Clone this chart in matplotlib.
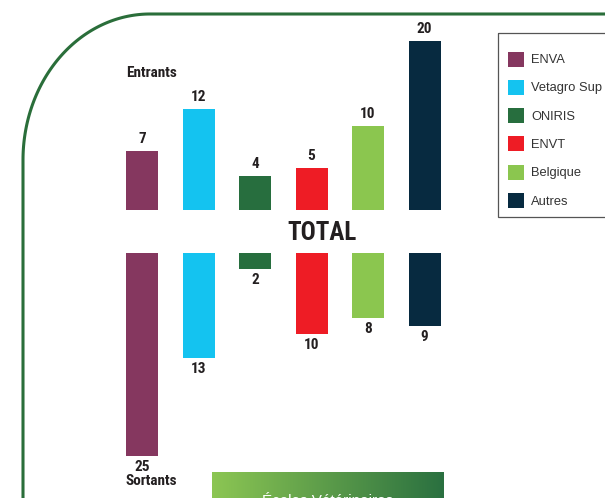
import numpy as np
import matplotlib
matplotlib.use('Agg')
import matplotlib.pyplot as plt
from matplotlib.patches import Rectangle
from matplotlib.colors import LinearSegmentedColormap

# data
ecoles = ['ENVA', 'Vetagro Sup', 'ONIRIS', 'ENVT', 'Belgique', 'Autres']
couleurs = ['#85375f', '#14c3f0', '#276e3e', '#ee1c25', '#8bc64f', '#072a40']
entrants = [7, 12, 4, 5, 10, 20]
sortants = [25, 13, 2, 10, 8, 9]

W, H = 605, 498
narrow = ['Roboto Condensed', 'Liberation Sans Narrow', 'Liberation Sans', 'DejaVu Sans']
plain = ['Liberation Sans', 'DejaVu Sans']
txt_col = '#231f20'

fig = plt.figure(figsize=(W / 100, H / 100), dpi=100)
ax = fig.add_axes([0, 0, 1, 1])
ax.set_xlim(0, W)
ax.set_ylim(H, 0)
ax.axis('off')

# page border (rounded top-left corner)
green = '#2a6e3a'
cx, cy, rx, ry = 150, 160, 127, 146
t = np.linspace(np.pi, 1.5 * np.pi, 80)
bx = np.concatenate([[23], cx + rx * np.cos(t), [W + 5]])
by = np.concatenate([[H + 5], cy + ry * np.sin(t), [cy - ry]])
ax.plot(bx, by, color=green, lw=2.2, solid_capstyle='butt')

# bars
x0, step, bw = 142, 56.5, 32
base_top, base_bot = 210, 253
k_top, k_bot = 8.45, 8.1
xs = x0 + step * np.arange(len(ecoles))

ax.bar(xs, -np.array(entrants) * k_top, bottom=base_top, width=bw, color=couleurs)
ax.bar(xs, np.array(sortants) * k_bot, bottom=base_bot, width=bw, color=couleurs)

for x, v in zip(xs, entrants):
    ax.text(x, base_top - v * k_top - 12, str(v), ha='center', va='center',
            fontsize=11, fontweight='bold', family=narrow, color=txt_col)
for x, v in zip(xs, sortants):
    ax.text(x, base_bot + v * k_bot + 11, str(v), ha='center', va='center',
            fontsize=11, fontweight='bold', family=narrow, color=txt_col)

ax.text(126, 73, 'Entrants', ha='left', va='center', fontsize=11, fontweight='bold',
        family=narrow, color=txt_col)
ax.text(126, 481, 'Sortants', ha='left', va='center', fontsize=11, fontweight='bold',
        family=narrow, color=txt_col)
ax.text(322, 233, 'TOTAL', ha='center', va='center', fontsize=18, fontweight='bold',
        family=narrow, color=txt_col)

# legend
ax.add_patch(Rectangle((498, 33), 150, 184, fill=False, ec='#555555', lw=0.9))
for i, (nom, c) in enumerate(zip(ecoles, couleurs)):
    y = 59 + i * 28.3
    ax.add_patch(Rectangle((508, y - 7.5), 16, 15, color=c, lw=0))
    ax.text(531, y + 1, nom, ha='left', va='center', fontsize=9.3,
            family=plain, color='#333333')

# gradient banner at the bottom
cmap = LinearSegmentedColormap.from_list('vert', ['#8cc653', '#2a7040'])
grad = np.linspace(0, 1, 256).reshape(1, -1)
ax.imshow(grad, cmap=cmap, aspect='auto', extent=[212, 444, H + 20, 472], zorder=1)
ax.text(328, 494, 'Écoles Vétérinaires', ha='center', va='top', fontsize=11,
        color='white', family=plain, zorder=2)
ax.set_xlim(0, W)
ax.set_ylim(H, 0)

fig.savefig('out.png', dpi=100)
